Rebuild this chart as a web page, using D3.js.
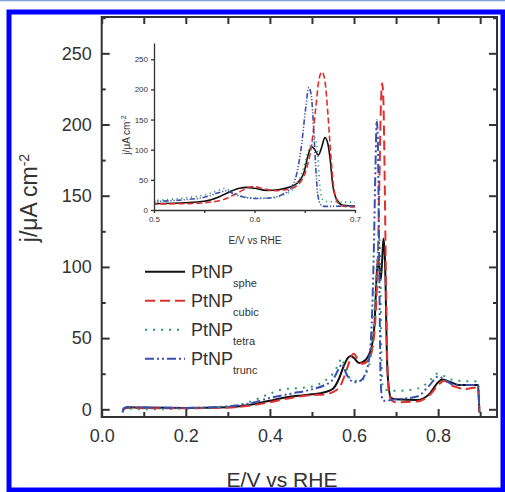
<!DOCTYPE html>
<meta charset="utf-8">
<script src="https://d3js.org/d3.v7.min.js"></script>
<style>
  body { margin: 0; background: #fff; }
  text { font-family: "Liberation Sans", Arial, sans-serif; fill: #333; }
</style>
<div id="chart"></div>
<script>

// ---- data: [E (V vs RHE), j (uA cm-2)] ----
var sphe = [[0.050,-2],[0.052,0.5],[0.06,1.5],[0.1,1.2],[0.2,1],[0.3,1.5],[0.35,3],[0.4,6],[0.45,9],[0.5,10.5],
  [0.53,12],[0.55,14.5],[0.565,22],[0.575,30],[0.585,36],[0.592,37.5],[0.6,36],[0.612,32.5],[0.625,34],[0.635,38],
  [0.642,44],[0.649,61],[0.654,95],[0.657,105],[0.660,100],[0.6635,91],[0.667,105],[0.670,120],[0.673,110],
  [0.675,88],[0.678,40],[0.682,17],[0.688,8],[0.70,7],[0.75,6.5],[0.78,11],[0.80,19],[0.81,21],[0.83,19],
  [0.85,17],[0.895,17],[0.898,-2]];
var cubic = [[0.050,-2],[0.052,0],[0.06,1],[0.1,0.8],[0.2,0.8],[0.3,1.2],[0.35,2.5],[0.4,5],[0.45,8],[0.5,10],
  [0.53,10.5],[0.55,12],[0.57,18],[0.585,30],[0.595,38],[0.600,39],[0.607,36],[0.62,32],[0.635,35],[0.645,45],
  [0.652,70],[0.657,110],[0.661,170],[0.664,215],[0.667,229],[0.670,215],[0.673,160],[0.676,90],[0.679,35],
  [0.683,12],[0.69,6],[0.70,5],[0.75,5.5],[0.78,10],[0.80,17],[0.815,20],[0.83,17],[0.85,15],[0.86,14],
  [0.895,15.5],[0.898,-2]];
var tetra = [[0.050,-1],[0.052,0],[0.06,0.5],[0.1,0],[0.2,0.5],[0.3,2],[0.35,5],[0.4,11],[0.43,14],[0.47,15],
  [0.5,16],[0.53,20],[0.55,25],[0.565,33],[0.57,36],[0.578,30],[0.587,23],[0.6,20],[0.615,20],[0.63,26],
  [0.64,38],[0.648,65],[0.653,95],[0.657,112],[0.660,120],[0.6625,100],[0.665,40],[0.668,17],[0.672,14],
  [0.70,13],[0.75,14.5],[0.78,20],[0.795,25],[0.81,24],[0.83,21],[0.85,20],[0.895,19.5],[0.898,-1]];
var trunc = [[0.050,-2],[0.052,0],[0.06,1.5],[0.1,1.2],[0.2,1],[0.3,2],[0.35,4],[0.4,8],[0.45,11],[0.5,14],
  [0.53,17],[0.55,21],[0.565,29],[0.572,32],[0.58,26],[0.59,21],[0.6,19],[0.615,20],[0.628,26],[0.636,36],
  [0.642,60],[0.647,110],[0.651,170],[0.654,203],[0.6565,190],[0.659,130],[0.661,70],[0.663,25],[0.666,9],
  [0.67,6],[0.70,7],[0.75,9],[0.78,17],[0.80,23],[0.815,21],[0.83,18],[0.85,17],[0.895,17],[0.898,-2]];

var seriesNames = ["sphe", "cubic", "tetra", "trunc"];
var seriesData = [sphe, cubic, tetra, trunc];
var seriesColors = ["#111111", "#e0302e", "#2e9b6b", "#3b4fb0"];
var seriesDash = [null, "10,5", "2,6", "9,3,2,3,2,3"];

// ticks
var xMajor = [0, 0.2, 0.4, 0.6, 0.8];
var xMinor = [0.1, 0.3, 0.5, 0.7, 0.9];
var yMajor = [0, 50, 100, 150, 200, 250];
var yMinor = [25, 75, 125, 175, 225, 275];
var insetXTicks = [0.5, 0.55, 0.6, 0.65, 0.7];
var insetXLabels = [0.5, 0.6, 0.7];
var insetYTicks = [0, 50, 100, 150, 200, 250];

var W = 505, H = 492;
var svg = d3.select("#chart").append("svg").attr("width", W).attr("height", H);

// page frame (blue border)
svg.append("line").attr("x1", 0).attr("x2", W).attr("y1", 0.5).attr("y2", 0.5)
  .style("stroke", "#7ba3d8").style("stroke-width", 1.5);
svg.append("rect").attr("x", 9).attr("y", 12).attr("width", 494).attr("height", 478)
  .style("fill", "none").style("stroke", "#0000ff").style("stroke-width", 5);

// main plot scales
var plot = {left: 101.7, right: 497, top: 17, bottom: 417};
var x = d3.scaleLinear().domain([0, 0.94]).range([plot.left, plot.right]);
var y = d3.scaleLinear().domain([-5.4, 275.5]).range([plot.bottom, plot.top]);

svg.append("clipPath").attr("id", "clipMain").append("rect")
  .attr("x", plot.left).attr("y", plot.top)
  .attr("width", plot.right - plot.left).attr("height", plot.bottom - plot.top);

var line = d3.line()
  .x(function(d) { return x(d[0]); })
  .y(function(d) { return y(d[1]); })
  .curve(d3.curveMonotoneX);

var gLines = svg.append("g").attr("clip-path", "url(#clipMain)");
seriesData.forEach(function(s, i) {
  gLines.append("path").datum(s)
    .attr("d", line)
    .style("fill", "none")
    .style("stroke", seriesColors[i])
    .style("stroke-width", 2)
    .style("stroke-dasharray", seriesDash[i]);
});

// main axes, ticks pointing inward
function styleAxis(g) {
  g.select(".domain").remove();
  g.selectAll("line").style("stroke", "#333").style("stroke-width", 2);
  g.selectAll("text").style("font-size", "18px").style("fill", "#333");
}
svg.append("g").attr("transform", "translate(0," + plot.bottom + ")")
  .call(d3.axisBottom(x).tickValues(xMajor).tickSize(-8).tickPadding(12).tickFormat(d3.format(".1f")))
  .call(styleAxis);
svg.append("g").attr("transform", "translate(0," + plot.bottom + ")")
  .call(d3.axisBottom(x).tickValues(xMinor).tickSize(-5).tickFormat(""))
  .call(styleAxis);
svg.append("g").attr("transform", "translate(0," + plot.top + ")")
  .call(d3.axisTop(x).tickValues(xMajor.concat(xMinor)).tickSize(-7).tickFormat(""))
  .call(styleAxis);
svg.append("g").attr("transform", "translate(" + plot.left + ",0)")
  .call(d3.axisLeft(y).tickValues(yMajor).tickSize(-8).tickPadding(10))
  .call(styleAxis);
svg.append("g").attr("transform", "translate(" + plot.left + ",0)")
  .call(d3.axisLeft(y).tickValues(yMinor).tickSize(-4).tickFormat(""))
  .call(styleAxis);
svg.append("g").attr("transform", "translate(" + plot.right + ",0)")
  .call(d3.axisRight(y).tickValues(yMajor).tickSize(-8).tickFormat(""))
  .call(styleAxis);
svg.append("g").attr("transform", "translate(" + plot.right + ",0)")
  .call(d3.axisRight(y).tickValues(yMinor).tickSize(-4).tickFormat(""))
  .call(styleAxis);

svg.append("rect").attr("x", plot.left).attr("y", plot.top)
  .attr("width", plot.right - plot.left).attr("height", plot.bottom - plot.top)
  .style("fill", "none").style("stroke", "#333").style("stroke-width", 2);

// axis titles
svg.append("text").attr("x", 282).attr("y", 486.5).attr("text-anchor", "middle")
  .style("font-size", "21px").text("E/V vs RHE");
var yt = svg.append("text").attr("transform", "translate(37,198) rotate(-90)")
  .attr("text-anchor", "middle").style("font-size", "23px");
yt.append("tspan").text("j/\u03bcA cm");
yt.append("tspan").attr("dy", "-0.6em").style("font-size", "14px").text("-2");

// legend
var legX = 145, legY = 271.7, legStep = 29;
seriesNames.forEach(function(n, i) {
  var yy = legY + i * legStep;
  svg.append("line").attr("x1", legX).attr("x2", legX + 40).attr("y1", yy).attr("y2", yy)
    .style("stroke", seriesColors[i]).style("stroke-width", 2)
    .style("stroke-dasharray", seriesDash[i]);
  var t = svg.append("text").attr("x", legX + 46).attr("y", yy + 6.5).style("font-size", "18px");
  t.append("tspan").text("PtNP");
  t.append("tspan").attr("dy", 9).style("font-size", "11px").text(n);
});

// ---- inset ----
var ins = {left: 154, right: 355, top: 43, bottom: 210};
var xi = d3.scaleLinear().domain([0.5, 0.7]).range([ins.left, ins.right]);
var yi = d3.scaleLinear().domain([0, 277]).range([ins.bottom, ins.top]);

svg.append("clipPath").attr("id", "clipInset").append("rect")
  .attr("x", ins.left).attr("y", ins.top)
  .attr("width", ins.right - ins.left).attr("height", ins.bottom - ins.top);

var lineI = d3.line()
  .x(function(d) { return xi(d[0]); })
  .y(function(d) { return yi(d[1]); })
  .curve(d3.curveMonotoneX);

var gIns = svg.append("g").attr("clip-path", "url(#clipInset)");
seriesData.forEach(function(s, i) {
  gIns.append("path").datum(s)
    .attr("d", lineI)
    .style("fill", "none")
    .style("stroke", seriesColors[i])
    .style("stroke-width", 1.6)
    .style("stroke-dasharray", seriesDash[i] ? seriesDash[i].split(",").map(function(v) { return v * 0.6; }).join(",") : null);
});

function styleInset(g) {
  g.select(".domain").style("stroke", "#333").style("stroke-width", 1.3);
  g.selectAll("line").style("stroke", "#333").style("stroke-width", 1.3);
  g.selectAll("text").style("font-size", "8px").style("fill", "#333");
}
svg.append("g").attr("transform", "translate(0," + ins.bottom + ")")
  .call(d3.axisBottom(xi).tickValues(insetXTicks).tickSize(3).tickSizeOuter(0)
    .tickFormat(function(d) { return insetXLabels.indexOf(d) >= 0 ? d3.format(".1f")(d) : ""; }))
  .call(styleInset);
svg.append("g").attr("transform", "translate(" + ins.left + ",0)")
  .call(d3.axisLeft(yi).tickValues(insetYTicks).tickSize(3).tickSizeOuter(0).tickPadding(3))
  .call(styleInset);

svg.append("text").attr("x", 255).attr("y", 243.5).attr("text-anchor", "middle")
  .style("font-size", "10px").text("E/V vs RHE");
var yti = svg.append("text").attr("transform", "translate(130,135) rotate(-90)")
  .attr("text-anchor", "middle").style("font-size", "10px");
yti.append("tspan").text("j/\u03bcA cm");
yti.append("tspan").attr("dy", "-0.6em").style("font-size", "7px").text("-2");

</script>
